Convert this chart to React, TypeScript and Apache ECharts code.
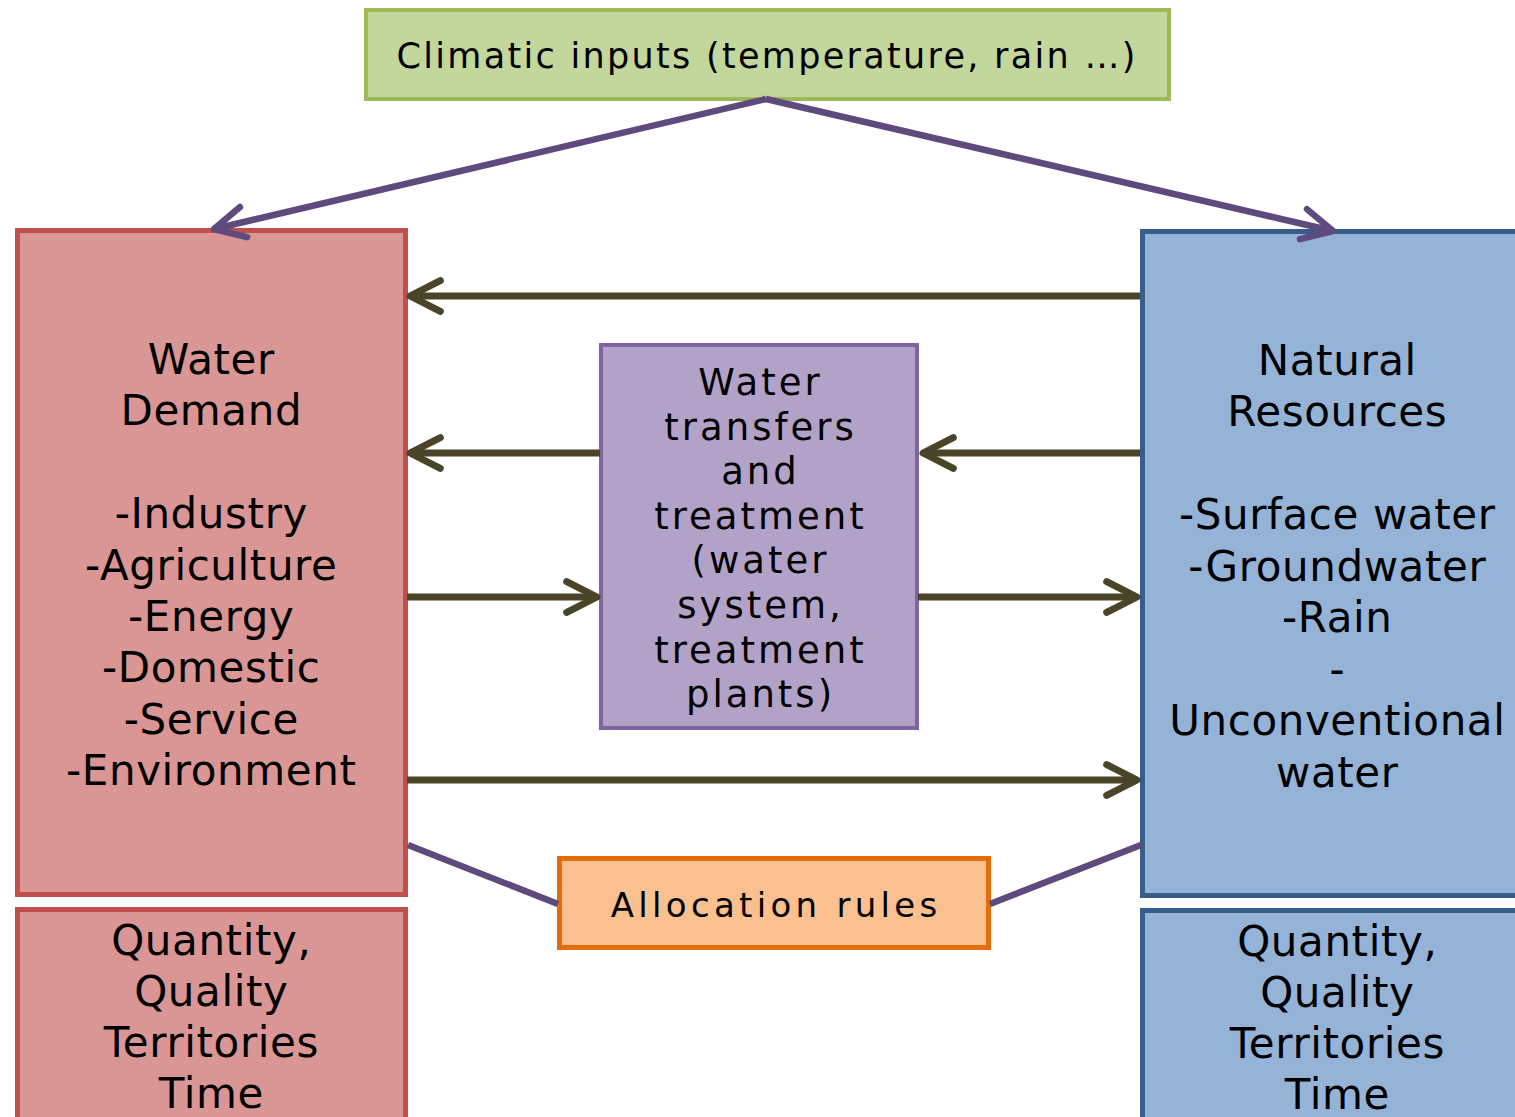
import React, { useEffect, useRef } from "react";
import * as echarts from "echarts";

// ---- Texts ----
const climateLabel = "Climatic inputs (temperature, rain …)";
const demandLines = ["Water", "Demand", "", "-Industry", "-Agriculture", "-Energy", "-Domestic", "-Service", "-Environment"];
const resourceLines = ["Natural", "Resources", "", "-Surface water", "-Groundwater", "-Rain", "-", "Unconventional", "water"];
const transferLines = ["Water", "transfers", "and", "treatment", "(water", "system,", "treatment", "plants)"];
const dimensionLines = ["Quantity,", "Quality", "Territories", "Time"];
const allocationLabel = "Allocation rules";

// ---- Colours ----
const C = {
  greenFill: "#C3D69B", greenStroke: "#9BBB59",
  redFill: "#D99694", redStroke: "#C0504D",
  blueFill: "#95B3D7", blueStroke: "#385D8A",
  purpleFill: "#B3A2C7", purpleStroke: "#8064A2",
  orangeFill: "#FAC090", orangeStroke: "#E46C0A",
  link: "#5E4A7D", arrow: "#4A4528",
};

const FONT = "'DejaVu Sans', Verdana, sans-serif";
// letter spacing (px) by font size, to mimic the wide-set original type
const SPACING: Record<string, number> = { "42px": 0.6, "35px": 2.3, "34px": 4.3, "37px": 3 };

function box(x0: number, y0: number, x1: number, y1: number, fill: string, stroke: string, lw = 5) {
  return {
    type: "rect",
    shape: { x: x0 + lw / 2, y: y0 + lw / 2, width: x1 - x0 - lw, height: y1 - y0 - lw },
    style: { fill, stroke, lineWidth: lw },
  };
}

function label(lines: string[] | string, x: number, y: number, fontSize: number, lineHeight: number) {
  return {
    type: "text",
    x, y,
    style: {
      text: Array.isArray(lines) ? lines.join("\n") : lines,
      fontSize, fontFamily: FONT, fill: "#000",
      lineHeight, align: "center", verticalAlign: "middle",
    },
    z: 10,
  };
}

function arrow(from: [number, number], to: [number, number], color: string, lw: number, head = true, headLen = 34, headAng = 0.47) {
  const items: any[] = [
    { type: "line", shape: { x1: from[0], y1: from[1], x2: to[0], y2: to[1] }, style: { stroke: color, lineWidth: lw, lineCap: "butt" }, z: 5 },
  ];
  if (head) {
    const a = Math.atan2(from[1] - to[1], from[0] - to[0]);
    const p1 = [to[0] + headLen * Math.cos(a + headAng), to[1] + headLen * Math.sin(a + headAng)];
    const p2 = [to[0] + headLen * Math.cos(a - headAng), to[1] + headLen * Math.sin(a - headAng)];
    items.push({
      type: "polyline",
      shape: { points: [p1, [to[0], to[1]], p2] },
      style: { stroke: color, lineWidth: lw, lineCap: "round", lineJoin: "round", fill: null },
      z: 6,
    });
  }
  return items;
}

export default function App() {
  const ref = useRef<HTMLDivElement>(null);
  useEffect(() => {
    document.body.style.margin = "0";
    const chart = echarts.init(ref.current!, null, { renderer: "svg" });
    const elements: any[] = [
      box(364, 8, 1171, 101, C.greenFill, C.greenStroke, 4),
      box(15, 228, 408, 897, C.redFill, C.redStroke),
      box(15, 907, 408, 1130, C.redFill, C.redStroke),
      box(1140, 229, 1530, 898, C.blueFill, C.blueStroke),
      box(1140, 908, 1530, 1130, C.blueFill, C.blueStroke),
      box(599, 343, 919, 730, C.purpleFill, C.purpleStroke, 4),
      box(557, 856, 991, 950, C.orangeFill, C.orangeStroke),
      label(climateLabel, 766, 56, 35, 40),
      label(demandLines, 211, 565, 42, 51.4),
      label(resourceLines, 1337, 566, 42, 51.5),
      label(transferLines, 759, 538.5, 37, 44.6),
      label(dimensionLines, 211, 1016.5, 42, 51),
      label(dimensionLines, 1337, 1017.5, 42, 51),
      label(allocationLabel, 774, 905, 34, 40),
      ...arrow([766, 99], [214, 229], C.link, 6.5),
      ...arrow([766, 99], [1333, 231], C.link, 6.5),
      ...arrow([1140, 296], [410, 296], C.arrow, 7),
      ...arrow([600, 453], [410, 453], C.arrow, 7),
      ...arrow([1140, 453], [923, 453], C.arrow, 7),
      ...arrow([407, 597], [597, 597], C.arrow, 7),
      ...arrow([918, 597], [1137, 597], C.arrow, 7),
      ...arrow([407, 780], [1137, 780], C.arrow, 7),
      ...arrow([408, 845], [558, 904], C.link, 6.5, false),
      ...arrow([990, 904], [1141, 845], C.link, 6.5, false),
    ];
    chart.setOption({ animation: false, graphic: { elements } });
    const texts = ref.current!.querySelectorAll("text");
    texts.forEach((t) => {
      const fs = getComputedStyle(t).fontSize;
      const sp = SPACING[fs];
      if (sp !== undefined) {
        (t as SVGTextElement).style.letterSpacing = sp + "px";
        const x = parseFloat(t.getAttribute("x") || "0");
        t.setAttribute("x", String(x + sp / 2));
      }
    });
    return () => chart.dispose();
  }, []);
  return <div ref={ref} style={{ width: 1515, height: 1117, background: "#fff" }} />;
}
